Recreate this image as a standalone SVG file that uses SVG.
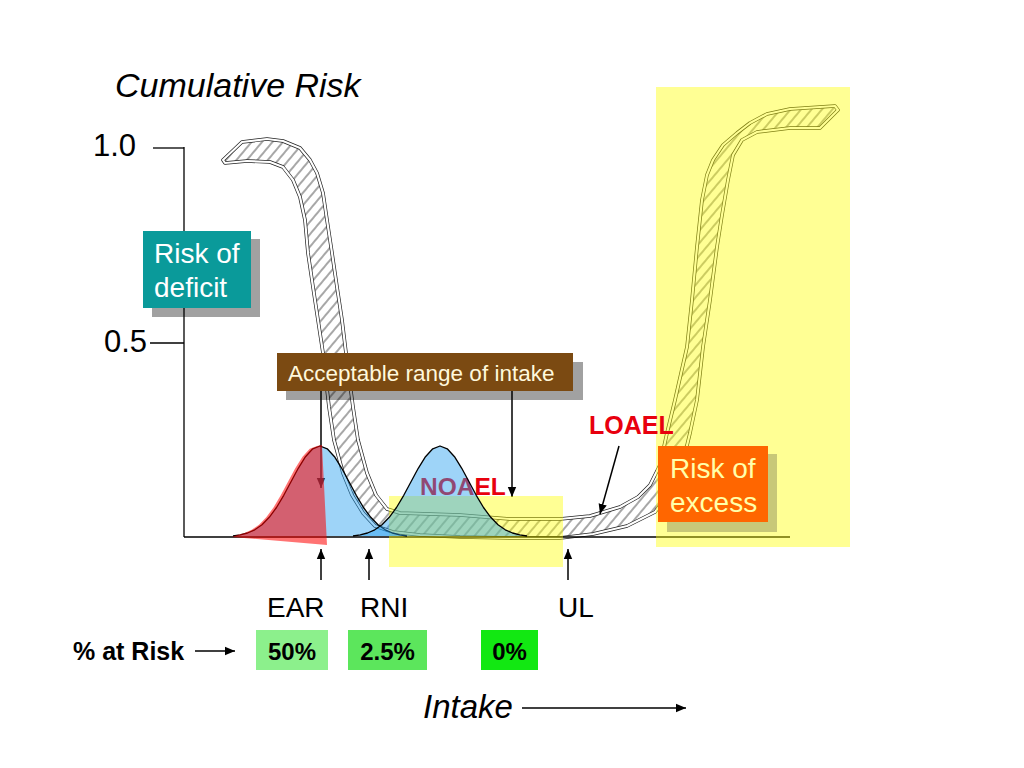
<svg xmlns="http://www.w3.org/2000/svg" width="1024" height="768" viewBox="0 0 1024 768">
<style>
  .sans{font-family:"Liberation Sans",Arial,sans-serif}
  .ax{stroke:#000;stroke-width:1.3;fill:none}
  .arr{stroke:#000;stroke-width:1.5;fill:none;marker-end:url(#ah)}
  .bell{fill:rgb(40,160,240);fill-opacity:0.45;stroke:#000;stroke-width:1.3;stroke-linejoin:round}
  .shadow{fill:#000;fill-opacity:0.37}
  .pct{font-family:"Liberation Sans",Arial,sans-serif;font-weight:bold;font-size:24px;fill:#000}
</style>
<defs>
  <pattern id="hatch" patternUnits="userSpaceOnUse" width="8" height="8" patternTransform="rotate(40)">
    <line x1="4" y1="0" x2="4" y2="8" stroke="#222" stroke-width="0.8"/>
  </pattern>
  <marker id="ah" markerUnits="userSpaceOnUse" markerWidth="12" markerHeight="10" refX="10" refY="5" orient="auto">
    <path d="M0,0.8 L10,5 L0,9.2 Z" fill="#000"/>
  </marker>
  <path id="rib" d="M242,142 L267,139 L283,141 L300,148 L310,160 L317,173 L323,193 L327,220 L332,253 L337,287 L342,320 L346,353 L353,407 L358,440 L367,473 L376,495 L387,509 L400,513 L430,514 L460,515 L510,519 L560,519 L590,516 L620,507 L638,497 L650,485 L660,465 L667,433 L675,400 L687,347 L692,300 L697,247 L702,200 L707,175 L713,160 L723,145 L737,133 L750,123 L767,114 L790,109 L835,106 L838,110 L820,128 L790,128 L757,132 L742,140 L733,155 L728,180 L722,215 L717,247 L710,300 L703,347 L697,400 L690,433 L683,462 L672,490 L655,512 L627,526 L593,534 L560,538 L510,538 L460,537 L420,535 L393,532 L375,526 L363,513 L352,495 L343,473 L334,440 L329,407 L323,353 L318,320 L313,287 L308,253 L305,220 L300,197 L293,180 L283,167 L270,162 L247,161 L225,163 L223,160 Z"/>
</defs>
<rect width="1024" height="768" fill="#fff"/>

<g id="ribbon">
  <use href="#rib" fill="url(#hatch)"/>
  <use href="#rib" fill="none" stroke="#222" stroke-width="3.6" stroke-linejoin="round"/>
  <use href="#rib" fill="none" stroke="#fff" stroke-width="2.2" stroke-linejoin="round"/>
</g>

<g id="axes">
  <line class="ax" x1="184" y1="147" x2="184" y2="537"/>
  <line class="ax" x1="184" y1="537" x2="790" y2="537"/>
  <line class="ax" x1="153" y1="148" x2="184" y2="148"/>
  <line class="ax" x1="150" y1="343" x2="184" y2="343"/>
  <text class="sans" x="93" y="156" font-size="31">1.0</text>
  <text class="sans" x="104" y="352" font-size="31">0.5</text>
  <text class="sans" x="115" y="97" font-size="34" font-style="italic">Cumulative Risk</text>
</g>

<g id="connectors">
  <line class="arr" x1="321" y1="391" x2="321" y2="488"/>
  <line class="arr" x1="512" y1="391" x2="512" y2="497"/>
  <line class="arr" x1="619" y1="446" x2="600" y2="514"/>
  <line class="arr" x1="321" y1="580" x2="321" y2="549"/>
  <line class="arr" x1="369" y1="580" x2="369" y2="549"/>
  <line class="arr" x1="568" y1="580" x2="568" y2="549"/>
  <line class="arr" x1="195" y1="651" x2="235" y2="651"/>
  <line class="arr" x1="522" y1="708" x2="686" y2="708"/>
</g>

<g id="noael">
  <text class="sans" x="420" y="495" font-size="24.5" font-weight="bold" fill="#e8000e">NOAEL</text>
</g>

<g id="safe-zone">
  <rect x="389" y="496" width="174" height="71" fill="#ffff00" fill-opacity="0.42"/>
</g>
<g id="excess-zone">
  <rect x="656" y="87" width="194" height="460" fill="#ffff00" fill-opacity="0.42"/>
</g>

<g id="loael">
  <text class="sans" x="589" y="434" font-size="25" font-weight="bold" fill="#e8000e">LOAEL</text>
</g>

<g id="bell-ear">
  <path class="bell" d="M233,536 L240.25,534.9 L247.5,533 L254.75,529.8 L262,524.7 L269.25,517.3 L276.5,507.5 L283.75,495.3 L291,481.8 L298.25,468.3 L305.5,456.7 L312.75,448.8 L320,446 L327.25,448.8 L334.5,456.7 L341.75,468.3 L349,481.8 L356.25,495.3 L363.5,507.5 L370.75,517.3 L378,524.7 L385.25,529.8 L392.5,533 L399.75,534.9 L407,536"/>
</g>
<g id="bell-rni">
  <path class="bell" d="M353,536 L360.25,534.9 L367.5,533 L374.75,529.8 L382,524.7 L389.25,517.3 L396.5,507.5 L403.75,495.3 L411,481.8 L418.25,468.3 L425.5,456.7 L432.75,448.8 L440,446 L447.25,448.8 L454.5,456.7 L461.75,468.3 L469,481.8 L476.25,495.3 L483.5,507.5 L490.75,517.3 L498,524.7 L505.25,529.8 L512.5,533 L519.75,534.9 L527,536"/>
</g>
<g id="deficit-area">
  <path d="M232,537 L237.25,534.9 L244.5,533 L251.75,529.8 L259,524.7 L266.25,517.3 L273.5,507.5 L280.75,495.3 L288,481.8 L295.25,468.3 L302.5,456.7 L309.75,448.8 L317,446 L322,445 L327,545 Z" fill="#ff0000" fill-opacity="0.55"/>
</g>

<g id="risk-deficit">
  <rect class="shadow" x="152" y="239" width="108" height="78"/>
  <rect x="143" y="231" width="108" height="77" fill="#0a9a9a"/>
  <text class="sans" x="154" y="263" font-size="28" fill="#fff">Risk of</text>
  <text class="sans" x="154" y="297" font-size="28" fill="#fff">deficit</text>
</g>

<g id="acceptable-range">
  <rect class="shadow" x="286" y="362" width="297" height="38"/>
  <rect x="277" y="353" width="296" height="38" fill="#7b4a12"/>
  <text class="sans" x="288" y="381" font-size="22.5" fill="#fff8dc">Acceptable range of intake</text>
</g>

<g id="risk-excess">
  <rect x="667" y="454" width="110" height="78" fill="#c8c878"/>
  <rect x="658" y="446" width="110" height="76" fill="#ff6600"/>
  <text class="sans" x="670" y="478" font-size="28" fill="#ffffaa">Risk of</text>
  <text class="sans" x="670" y="512" font-size="28" fill="#ffffaa">excess</text>
</g>

<g id="labels">
  <text class="sans" x="267" y="617" font-size="28">EAR</text>
  <text class="sans" x="360" y="617" font-size="28">RNI</text>
  <text class="sans" x="558" y="617" font-size="28">UL</text>
  <text class="sans" x="73" y="660" font-size="25" font-weight="bold">% at Risk</text>
  <text class="sans" x="423" y="718" font-size="33" font-style="italic">Intake</text>
</g>

<g id="pct-50">
  <rect x="256" y="630" width="72" height="40" fill="#8cf08c"/>
  <text class="pct" x="292" y="660" text-anchor="middle">50%</text>
</g>
<g id="pct-25">
  <rect x="348" y="630" width="79" height="40" fill="#5ce65c"/>
  <text class="pct" x="387.5" y="660" text-anchor="middle">2.5%</text>
</g>
<g id="pct-0">
  <rect x="481" y="630" width="57" height="40" fill="#12e812"/>
  <text class="pct" x="509.5" y="660" text-anchor="middle">0%</text>
</g>
</svg>
